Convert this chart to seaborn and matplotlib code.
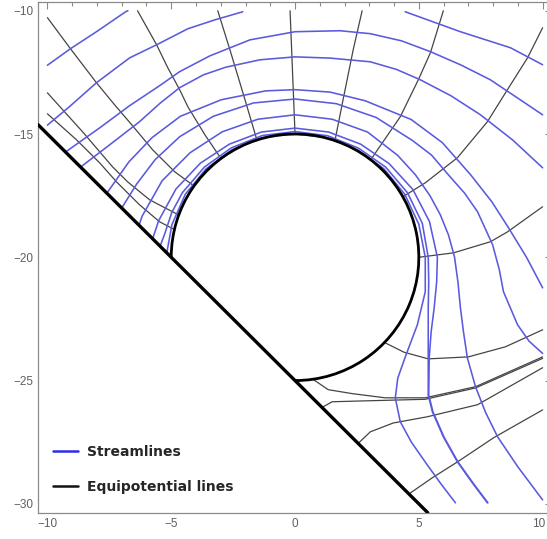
import matplotlib
matplotlib.use("Agg")
import matplotlib.pyplot as plt
import pandas as pd
import seaborn as sns
from matplotlib.lines import Line2D
from matplotlib.patches import Arc
from matplotlib.ticker import FixedLocator, MultipleLocator, FixedFormatter

sns.set_style("white")
plt.rcParams["font.family"] = ["Liberation Sans", "DejaVu Sans"]

# ---- geometry: cylinder of radius 5 cut by a straight electrode wall ----
cyl_center = (0.0, -20.0)
cyl_radius = 5.0
cyl_theta = (-90.0, 180.0)          # visible arc, between the two wall contacts
wall_point = (0.0, -25.0)
wall_slope = -1.0

# ---- streamlines (x, y) ----
streamlines = {
    "s1": [(-10.0, -12.21), (-9.07, -11.54), (-8.02, -10.85), (-6.84, -10.04), (-6.75, -10.0)],
    "s2": [(-10.0, -14.64), (-9.11, -13.89), (-8.02, -12.92), (-6.68, -11.91), (-5.59, -11.38),
           (-4.33, -10.73), (-3.24, -10.37), (-2.11, -10.04)],
    "s3": [(4.45, -10.04), (6.68, -10.85), (8.7, -11.5), (10.0, -12.19)],
    "b": [(-9.27, -15.73), (-7.89, -14.75), (-6.68, -13.85), (-5.47, -13.04), (-4.66, -12.47),
          (-3.44, -11.83), (-1.82, -11.18), (0.0, -10.85), (1.82, -10.81), (3.04, -10.93),
          (4.3, -11.22), (5.47, -11.66), (6.7, -12.2), (7.89, -12.8), (10.0, -14.22)],
    "c": [(-8.66, -16.34), (-7.49, -15.44), (-6.28, -14.5), (-5.45, -13.75), (-4.66, -13.12),
          (-3.7, -12.6), (-2.8, -12.29), (-1.42, -11.99), (0.0, -11.87), (1.42, -11.92),
          (3.04, -12.07), (4.1, -12.38), (5.06, -12.8), (6.3, -13.45), (7.49, -14.22),
          (8.8, -15.25), (10.0, -16.37)],
    "d": [(-7.6, -17.4), (-6.71, -16.13), (-5.78, -15.15), (-4.63, -14.28), (-2.98, -13.61),
          (-1.19, -13.25), (0.0, -13.2), (1.42, -13.3), (2.83, -13.65), (4.69, -14.41),
          (5.95, -15.35), (7.09, -16.65), (7.95, -17.75), (8.62, -18.8), (9.35, -20.0),
          (10.0, -21.24)],
    "e": [(-7.0, -18.0), (-6.39, -17.02), (-5.65, -16.04), (-4.66, -15.11), (-3.3, -14.28),
          (-1.68, -13.74), (0.0, -13.58), (1.67, -13.77), (3.28, -14.33), (4.74, -15.26),
          (5.51, -15.85), (6.19, -16.65), (6.85, -17.4), (7.37, -18.15), (7.98, -19.49),
          (8.25, -20.5), (8.42, -21.4), (8.99, -22.74), (9.45, -23.4), (10.0, -23.9)],
    "f": [(-6.3, -18.7), (-6.18, -18.34), (-5.37, -16.9), (-4.24, -15.76), (-2.94, -14.91),
          (-1.5, -14.4), (0.0, -14.22), (1.5, -14.4), (2.93, -14.92), (4.14, -15.86),
          (4.86, -16.65), (5.45, -17.5), (5.87, -18.28), (6.2, -19.1), (6.44, -19.98),
          (6.58, -21.0), (6.68, -22.05), (6.8, -23.0), (6.96, -24.08), (7.29, -25.25),
          (7.7, -26.3), (8.18, -27.28), (9.0, -28.5), (10.0, -29.84)],
    "g": [(-5.75, -19.25), (-5.51, -18.52), (-4.81, -17.23), (-3.82, -16.18), (-2.65, -15.41),
          (-1.36, -14.92), (0.0, -14.76), (1.36, -14.92), (2.65, -15.41), (3.8, -16.2),
          (4.76, -17.25), (5.43, -18.55), (5.75, -20.0), (5.72, -21.0), (5.62, -22.05),
          (5.5, -23.0), (5.42, -24.08), (5.4, -25.58), (5.57, -26.27), (6.02, -27.3),
          (6.58, -28.3), (7.22, -29.2), (7.79, -29.96)],
    "h": [(-5.45, -19.55), (-5.27, -19.07), (-4.98, -18.19), (-4.55, -17.38), (-3.66, -16.34),
          (-2.57, -15.56), (-1.32, -15.06), (0.0, -14.9), (1.32, -15.07), (2.56, -15.57),
          (3.66, -16.34), (4.54, -17.38), (5.14, -18.62), (5.38, -20.0), (5.4, -21.0),
          (5.38, -22.05), (5.38, -24.08), (5.38, -25.58), (5.55, -26.27), (6.0, -27.3),
          (6.56, -28.3), (7.2, -29.2), (7.77, -29.96)],
    "i": [(-5.18, -19.82), (-4.97, -18.67), (-4.43, -17.44), (-3.59, -16.41), (-2.53, -15.63),
          (-1.3, -15.14), (0.0, -14.99), (1.3, -15.15), (2.52, -15.64), (3.59, -16.41),
          (4.43, -17.44), (5.0, -18.66), (5.26, -20.0), (5.26, -21.4), (4.94, -22.74),
          (4.45, -24.05), (4.15, -24.9), (4.05, -25.7), (4.25, -26.67), (4.7, -27.5),
          (5.34, -28.42), (5.9, -29.2), (6.48, -29.96)],
}

# ---- equipotential lines (x, y) ----
equipotentials = {
    "t0": [(-0.2, -10.0), (-0.1, -12.5), (0.0, -15.0)],
    "t1": [(-3.12, -10.0), (-2.63, -11.58), (-2.02, -13.61), (-1.54, -15.24)],
    "t2": [(2.71, -10.0), (2.35, -11.58), (1.94, -13.61), (1.62, -15.23)],
    "t3": [(-6.36, -10.0), (-5.59, -11.38), (-5.14, -12.31), (-4.66, -13.2), (-4.33, -13.89),
           (-3.64, -15.03), (-3.04, -15.92)],
    "t4": [(5.99, -10.0), (5.47, -11.7), (4.98, -12.8), (4.25, -14.3), (3.1, -15.98)],
    "t5": [(10.0, -10.69), (9.39, -11.91), (8.58, -13.2), (7.77, -14.5), (6.56, -15.96),
           (5.26, -16.98), (4.35, -17.55)],
    "r1": [(5.0, -20.0), (6.4, -19.82), (7.89, -19.37), (8.58, -18.97), (10.0, -17.95)],
    "r2": [(3.64, -23.47), (4.4, -23.85), (5.38, -24.12), (7.0, -24.04), (8.5, -23.63), (10.0, -22.94)],
    "b1": [(0.73, -24.95), (1.34, -25.37), (2.31, -25.53), (3.64, -25.7), (5.26, -25.7),
           (7.29, -25.25), (10.0, -24.04)],
    "b2": [(1.09, -26.09), (1.5, -25.86), (2.96, -25.82), (5.26, -25.76), (7.29, -25.3), (10.0, -24.1)],
    "b3": [(2.55, -27.55), (3.04, -27.08), (3.97, -26.72), (5.34, -26.47), (7.37, -25.98), (10.0, -24.48)],
    "b4": [(4.6, -29.6), (5.55, -28.94), (6.56, -28.3), (8.02, -27.32), (10.0, -26.19)],
    "l1": [(-10.0, -10.28), (-9.07, -11.54), (-8.02, -12.92), (-7.29, -13.81), (-6.6, -14.62),
           (-5.75, -15.64), (-4.86, -16.53), (-4.09, -17.1)],
    "l2": [(-10.0, -13.33), (-8.58, -14.91), (-7.37, -16.33), (-6.76, -16.94), (-5.87, -17.67),
           (-5.26, -17.99), (-4.7, -18.28)],
    "l3": [(-10.0, -14.18), (-8.83, -15.23), (-7.89, -16.17), (-7.21, -16.94), (-6.28, -17.87),
           (-5.47, -18.56), (-4.86, -18.88)],
}

legend_labels = ["Streamlines", "Equipotential lines"]
x_ticks = [-10, -5, 0, 5, 10]
y_ticks = [-30, -25, -20, -15, -10]


def to_frame(curves):
    rows = []
    for name, pts in curves.items():
        for k, (x, y) in enumerate(pts):
            rows.append({"curve": name, "order": k, "x": x, "y": y})
    return pd.DataFrame(rows)


def minus(v):
    return f"{v}".replace("-", "\u2212")


stream_df = to_frame(streamlines)
equi_df = to_frame(equipotentials)

STREAM_COLOR = "#5a5ade"
EQUI_COLOR = "#454545"
TICK_LABEL_COLOR = "#606060"

fig = plt.figure(figsize=(5.47, 5.39), dpi=100)
ax = fig.add_axes([0.0695, 0.0488, 0.9397, 0.9477])

sns.lineplot(data=equi_df, x="x", y="y", units="curve", estimator=None, sort=False,
             color=EQUI_COLOR, lw=0.9, ax=ax, legend=False)
sns.lineplot(data=stream_df, x="x", y="y", units="curve", estimator=None, sort=False,
             color=STREAM_COLOR, lw=1.15, ax=ax, legend=False)

# cylinder outline and wall
ax.add_patch(Arc(cyl_center, 2 * cyl_radius, 2 * cyl_radius, theta1=cyl_theta[0],
                 theta2=cyl_theta[1], color="black", lw=2.0, zorder=5))
ax.axline(wall_point, slope=wall_slope, color="black", lw=2.4, zorder=5)

ax.set_xlim(-10.38, 10.38)
ax.set_ylim(-30.36, -9.64)
ax.set_xlabel("")
ax.set_ylabel("")

ax.xaxis.set_major_locator(FixedLocator(x_ticks))
ax.xaxis.set_minor_locator(MultipleLocator(1))
ax.yaxis.set_major_locator(FixedLocator(y_ticks))
ax.yaxis.set_minor_locator(MultipleLocator(1))
# the rightmost x label is placed by hand a few points inward so it stays on the canvas
ax.xaxis.set_major_formatter(FixedFormatter([minus(v) for v in x_ticks[:-1]] + [""]))
ax.yaxis.set_major_formatter(FixedFormatter([minus(v) for v in y_ticks]))
ax.tick_params(which="both", direction="in", top=True, right=True, color="#8a8a8a",
               labelcolor=TICK_LABEL_COLOR, labelsize=8.5, width=0.8)
ax.tick_params(which="major", length=5, pad=3.5)
ax.tick_params(which="minor", length=2.8)
ax.annotate(minus(x_ticks[-1]), xy=(x_ticks[-1], 0), xycoords=("data", "axes fraction"),
            xytext=(-2.5, -3.5), textcoords="offset points", ha="center", va="top",
            fontsize=8.5, color=TICK_LABEL_COLOR, annotation_clip=False)
for s in ax.spines.values():
    s.set_color("#8a8a8a")
    s.set_linewidth(0.9)

handles = [Line2D([], [], color="#2d2de6", lw=1.8),
           Line2D([], [], color="#111111", lw=1.8)]
ax.legend(handles, legend_labels, loc="upper left", bbox_to_anchor=(0.029, 0.1325),
          borderaxespad=0, borderpad=0, frameon=False, handlelength=1.8,
          handletextpad=0.65, labelspacing=1.5,
          prop={"family": "DejaVu Sans", "weight": "bold", "size": 10})

fig.savefig("out.png", dpi=100)
